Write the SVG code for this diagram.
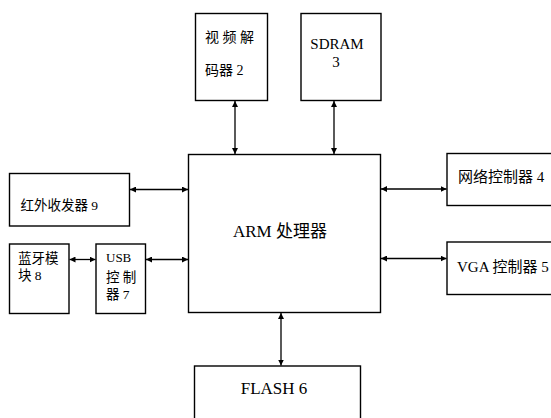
<svg xmlns="http://www.w3.org/2000/svg" width="551" height="418" viewBox="0 0 551 418">
<defs>
<marker id="ah" viewBox="0 0 10 10" refX="10" refY="5" markerWidth="6" markerHeight="6" markerUnits="userSpaceOnUse" orient="auto-start-reverse">
<path d="M0,0 L10,5 L0,10 Z" fill="#000"/>
</marker>
</defs>
<style>
rect{fill:#fff;stroke:#000;stroke-width:1.4}
text{font-family:'Liberation Serif','Times New Roman','DejaVu Serif','Noto Sans CJK SC',serif;fill:#000}
.c line{stroke:#000;stroke-width:1.3;marker-start:url(#ah);marker-end:url(#ah)}
</style>
<rect x="0" y="0" width="551" height="418" style="stroke:none"/>
<g id="arm"><rect x="188.5" y="154.5" width="192" height="158"/><text x="233" y="237" font-size="17">ARM 处理器</text></g>
<g id="video"><rect x="195.5" y="13.5" width="72" height="87"/><text x="205" y="42" font-size="14">视 频 解</text><text x="205" y="75" font-size="14">码器 2</text></g>
<g id="sdram"><rect x="301" y="13.5" width="80" height="87"/><text x="337" y="49" font-size="15" text-anchor="middle">SDRAM</text><text x="336" y="67" font-size="15" text-anchor="middle">3</text></g>
<g id="ir"><rect x="9.5" y="173.5" width="120" height="52.5"/><text x="20.5" y="210" font-size="13.5">红外收发器 9</text></g>
<g id="bt"><rect x="9.5" y="244" width="59.5" height="69.5"/><text x="18" y="263" font-size="13.5">蓝牙模</text><text x="18" y="280" font-size="13.5">块 8</text></g>
<g id="usb"><rect x="96" y="244" width="49.5" height="69.5"/><text x="106" y="262" font-size="13">USB</text><text x="106" y="282" font-size="13.5">控 制</text><text x="106" y="299" font-size="13.5">器 7</text></g>
<g id="net"><rect x="447" y="153.5" width="120" height="52"/><text x="458" y="182" font-size="15">网络控制器 4</text></g>
<g id="vga"><rect x="447" y="242" width="120" height="52.5"/><text x="457" y="272" font-size="15">VGA 控制器 5</text></g>
<g id="flash"><rect x="194.5" y="366" width="166" height="70"/><text x="274" y="394" font-size="17" text-anchor="middle">FLASH 6</text></g>
<g class="c" id="connectors">
<line x1="235" y1="101" x2="235" y2="154"/>
<line x1="334" y1="101" x2="334" y2="154"/>
<line x1="130" y1="189.5" x2="188" y2="189.5"/>
<line x1="146" y1="259.5" x2="188" y2="259.5"/>
<line x1="69.5" y1="259.5" x2="95.5" y2="259.5"/>
<line x1="381" y1="189" x2="446.5" y2="189"/>
<line x1="381" y1="258.5" x2="446.5" y2="258.5"/>
<line x1="281" y1="313" x2="281" y2="365.5"/>
</g>
</svg>
